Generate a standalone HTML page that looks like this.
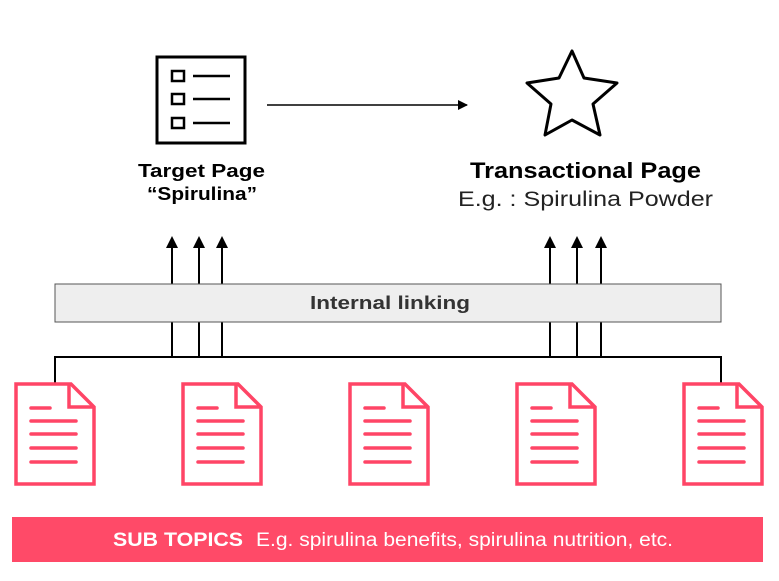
<!DOCTYPE html>
<html><head><meta charset="utf-8"><style>
html,body{margin:0;padding:0;background:#fff;}
body{width:779px;height:581px;overflow:hidden;position:relative;font-family:"Liberation Sans",sans-serif;}
</style></head><body>
<svg width="779" height="581" viewBox="0 0 779 581" xmlns="http://www.w3.org/2000/svg" style="position:absolute;left:0;top:0">
<defs>
<marker id="ah" markerWidth="10" markerHeight="10" refX="9" refY="5" orient="auto" markerUnits="userSpaceOnUse">
<path d="M0,0 L10,5 L0,10 z" fill="#000"/></marker>
<marker id="au" markerWidth="12" markerHeight="12" refX="10" refY="6" orient="auto" markerUnits="userSpaceOnUse">
<path d="M0,0 L12,6 L0,12 z" fill="#000"/></marker>
<g id="doc">
<path d="M2,2 H57 L80,25 V102 H2 Z" fill="#fff" stroke="#ff4566" stroke-width="3.5"/>
<path d="M55,2 V25 H80" fill="none" stroke="#ff4566" stroke-width="3.5"/>
<g stroke="#ff4566" stroke-width="3.5" stroke-linecap="round">
<line x1="17" y1="26" x2="36" y2="26"/>
<line x1="17" y1="39" x2="62" y2="39"/>
<line x1="17" y1="52" x2="62" y2="52"/>
<line x1="17" y1="66" x2="62" y2="66"/>
<line x1="17" y1="80" x2="62" y2="80"/>
</g></g>
</defs>
<rect x="157" y="57" width="88" height="86" fill="none" stroke="#000" stroke-width="3"/>
<g fill="none" stroke="#000" stroke-width="2.5">
<rect x="172" y="71" width="12" height="10"/><rect x="172" y="94" width="12" height="10"/><rect x="172" y="118" width="12" height="10"/>
<line x1="193" y1="76" x2="230" y2="76"/><line x1="193" y1="99" x2="230" y2="99"/><line x1="193" y1="123" x2="230" y2="123"/>
</g>
<line x1="267" y1="105" x2="467" y2="105" stroke="#000" stroke-width="1.5" marker-end="url(#ah)"/>
<polygon points="572,51 584,78 617,83 593,104 600,135 572,120 545,135 551,104 527,83 559,78" fill="none" stroke="#000" stroke-width="3" stroke-linejoin="round"/>
<text x="138" y="177" textLength="127" lengthAdjust="spacingAndGlyphs" font-size="18" font-weight="bold" fill="#000">Target Page</text>
<text x="147" y="200" textLength="110" lengthAdjust="spacingAndGlyphs" font-size="18" font-weight="bold" fill="#000">“Spirulina”</text>
<text x="470" y="178" textLength="231" lengthAdjust="spacingAndGlyphs" font-size="22" font-weight="bold" fill="#000">Transactional Page</text>
<text x="458" y="206" textLength="255" lengthAdjust="spacingAndGlyphs" font-size="21" fill="#222">E.g. :  Spirulina Powder</text>
<g stroke="#000" stroke-width="2">
<line x1="172" y1="357" x2="172" y2="238" marker-end="url(#au)"/>
<line x1="199" y1="357" x2="199" y2="238" marker-end="url(#au)"/>
<line x1="222" y1="357" x2="222" y2="238" marker-end="url(#au)"/>
<line x1="550" y1="357" x2="550" y2="238" marker-end="url(#au)"/>
<line x1="577" y1="357" x2="577" y2="238" marker-end="url(#au)"/>
<line x1="601" y1="357" x2="601" y2="238" marker-end="url(#au)"/>
</g>
<rect x="55" y="284" width="666" height="38" fill="#eeeeee" stroke="#555" stroke-width="1"/>
<text x="310" y="309" textLength="160" lengthAdjust="spacingAndGlyphs" font-size="18" font-weight="bold" fill="#333">Internal linking</text>
<path d="M55,383 V357 H721 V383" fill="none" stroke="#000" stroke-width="2"/>
<use href="#doc" x="14" y="382"/>
<use href="#doc" x="181" y="382"/>
<use href="#doc" x="348" y="382"/>
<use href="#doc" x="515" y="382"/>
<use href="#doc" x="682" y="382"/>
<rect x="12" y="517" width="751" height="45" fill="#ff4a68"/>
<text x="113" y="546" textLength="130" lengthAdjust="spacingAndGlyphs" font-size="19" font-weight="bold" fill="#fff">SUB TOPICS</text>
<text x="256" y="546" textLength="417" lengthAdjust="spacingAndGlyphs" font-size="19" fill="#fff">E.g. spirulina benefits, spirulina nutrition, etc.</text>
</svg>
</body></html>
